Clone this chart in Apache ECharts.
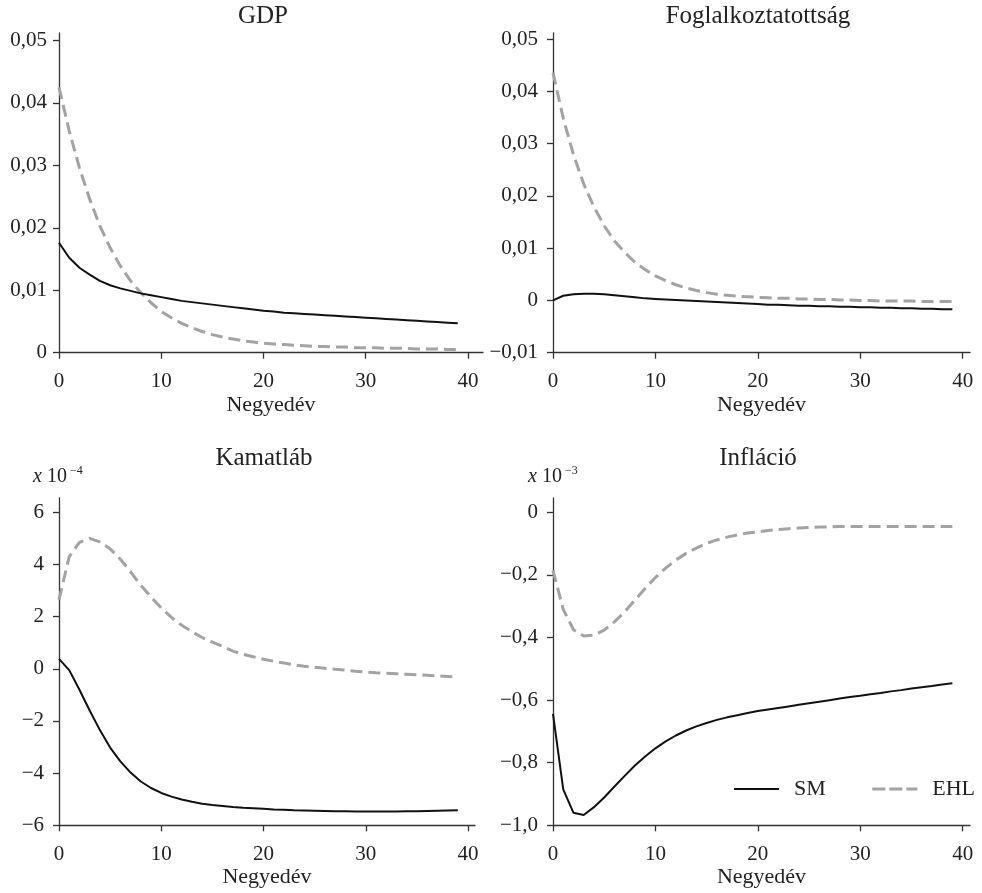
<!DOCTYPE html>
<html>
<head>
<meta charset="UTF-8">
<title>impulzusválaszok</title>
<script src="https://cdn.jsdelivr.net/npm/echarts@6/dist/echarts.min.js"></script>
<style>
*{margin:0;padding:0}
html,body{width:100%;height:100%;background:#fff}
#main{width:982px;height:893px}
</style>
</head>
<body>
<div id="main"></div>
<script type="text/javascript">
var quarters = [0,1,2,3,4,5,6,7,8,9,10,11,12,13,14,15,16,17,18,19,20,21,22,23,24,25,26,27,28,29,30,31,32,33,34,35,36,37,38,39];
var xTicks = [0,10,20,30,40];

// GDP
var gdpSM  = [.0176,.0152,.0136,.0125,.0115,.0108,.0103,.0099,.0095,.0092,.0089,.0086,.0083,.0081,.0079,.0077,.0075,.0073,.0071,.0069,.0067,.0066,.0064,.0063,.0062,.0061,.0060,.0059,.0058,.0057,.0056,.0055,.0054,.0053,.0052,.0051,.0050,.0049,.0048,.0047];
var gdpEHL = [.0425,.0355,.0296,.0246,.0203,.0168,.0139,.0115,.0096,.0080,.0066,.0056,.0047,.0040,.0034,.0029,.0025,.0022,.0019,.0017,.0015,.0014,.0013,.0012,.0011,.0010,.0010,.0009,.0009,.0008,.0008,.0008,.0007,.0007,.0007,.0006,.0006,.0006,.0005,.0005];
var gdpTicks = [0,0.01,0.02,0.03,0.04,0.05];

// Foglalkoztatottság
var empSM  = [0,.0009,.0012,.0013,.0013,.0012,.0010,.0008,.0006,.0004,.0003,.0002,.0001,0,-.0001,-.0002,-.0003,-.0004,-.0005,-.0006,-.0007,-.0008,-.0008,-.0009,-.0010,-.0010,-.0011,-.0011,-.0012,-.0012,-.0013,-.0013,-.0014,-.0014,-.0015,-.0015,-.0016,-.0016,-.0017,-.0017];
var empEHL = [.0436,.0349,.0279,.0223,.0179,.0143,.0114,.0092,.0073,.0059,.0047,.0038,.0030,.0024,.0019,.0015,.0012,.0010,.0008,.0007,.0006,.0005,.0004,.0004,.0003,.0003,.0002,.0002,.0001,.0001,0,0,-.0001,-.0001,-.0001,-.0001,-.0002,-.0002,-.0002,-.0002];
var empTicks = [-0.01,0,0.01,0.02,0.03,0.04,0.05];

// Kamatláb (x 10^-4)
var rateSM  = [0.38,-0.05,-0.8,-1.6,-2.35,-3.02,-3.55,-3.98,-4.32,-4.57,-4.76,-4.9,-5.01,-5.1,-5.17,-5.22,-5.26,-5.3,-5.33,-5.35,-5.37,-5.39,-5.4,-5.42,-5.43,-5.44,-5.45,-5.46,-5.46,-5.47,-5.47,-5.47,-5.47,-5.47,-5.46,-5.46,-5.45,-5.44,-5.43,-5.42];
var rateEHL = [2.65,4.3,4.85,5.0,4.87,4.6,4.2,3.72,3.2,2.75,2.33,1.97,1.67,1.42,1.2,1.02,0.86,0.68,0.56,0.46,0.37,0.29,0.22,0.15,0.10,0.06,0.02,-0.02,-0.05,-0.09,-0.12,-0.15,-0.17,-0.19,-0.21,-0.23,-0.25,-0.27,-0.29,-0.31];
var rateTicks = [-6,-4,-2,0,2,4,6];

// Infláció (x 10^-3)
var infSM  = [-0.644,-0.885,-0.96,-0.967,-0.942,-0.911,-0.876,-0.842,-0.809,-0.78,-0.754,-0.732,-0.713,-0.697,-0.684,-0.673,-0.663,-0.655,-0.648,-0.641,-0.635,-0.63,-0.625,-0.62,-0.615,-0.61,-0.605,-0.6,-0.595,-0.59,-0.586,-0.581,-0.577,-0.572,-0.568,-0.563,-0.559,-0.555,-0.55,-0.546];
var infEHL = [-0.185,-0.31,-0.375,-0.395,-0.392,-0.376,-0.35,-0.318,-0.28,-0.243,-0.208,-0.178,-0.152,-0.131,-0.114,-0.099,-0.088,-0.079,-0.072,-0.066,-0.062,-0.058,-0.055,-0.052,-0.05,-0.048,-0.047,-0.046,-0.045,-0.045,-0.045,-0.045,-0.045,-0.045,-0.045,-0.045,-0.045,-0.045,-0.045,-0.045];
var infTicks = [-1.0,-0.8,-0.6,-0.4,-0.2,0];

var FONT = 'Liberation Serif';
var AX = '#333';
var BLACK = '#111', GREY = '#a3a3a3';

function pairs(ys) {
    return quarters.map(function (q, i) { return [q, ys[i]]; });
}
function minus(s) { return s.replace('-', '\u2212'); }
function fmt2(v) { return v === 0 ? '0' : minus(v.toFixed(2).replace('.', ',')); }
function fmt1(v) { return v === 0 ? '0' : minus(v.toFixed(1).replace('.', ',')); }
function fmt0(v) { return minus(String(v)); }

function xAxis(idx, max, gap, margin) {
    return {
        type: 'value', gridIndex: idx, min: 0, max: max,
        name: 'Negyedév', nameLocation: 'middle', nameGap: gap,
        nameTextStyle: {fontFamily: FONT, fontSize: 22, color: '#222'},
        axisLine: {onZero: false, lineStyle: {color: AX, width: 1.3}},
        axisTick: {length: 6, customValues: xTicks, lineStyle: {color: AX, width: 1.3}},
        axisLabel: {customValues: xTicks, fontFamily: FONT, fontSize: 21, color: '#222', margin: margin},
        splitLine: {show: false}
    };
}
function yAxis(idx, min, max, ticks, f, margin) {
    return {
        type: 'value', gridIndex: idx, min: min, max: max,
        axisLine: {show: true, onZero: false, lineStyle: {color: AX, width: 1.3}},
        axisTick: {show: true, length: 6, customValues: ticks, lineStyle: {color: AX, width: 1.3}},
        axisLabel: {customValues: ticks, formatter: f, fontFamily: FONT, fontSize: 21, color: '#222', margin: margin},
        splitLine: {show: false}
    };
}
function sm(idx, ys) {
    return {name: 'SM', type: 'line', xAxisIndex: idx, yAxisIndex: idx, data: pairs(ys),
        symbol: 'none', lineStyle: {color: BLACK, width: 2}, itemStyle: {color: BLACK}, z: 3};
}
function ehl(idx, ys) {
    return {name: 'EHL', type: 'line', xAxisIndex: idx, yAxisIndex: idx, data: pairs(ys),
        symbol: 'none', lineStyle: {color: GREY, width: 3, type: [12, 6]}, itemStyle: {color: GREY}, z: 2};
}
function title(x, y, t) {
    return {type: 'text', x: x, y: y, style: {text: t, fontFamily: FONT, fontSize: 25, fill: '#222', align: 'center', verticalAlign: 'middle'}};
}
function expo(x, y, p) {
    return [
        {type: 'text', x: x, y: y, style: {text: '{i|x} 10', rich: {i: {fontStyle: 'italic', fontFamily: FONT, fontSize: 20}}, fontFamily: FONT, fontSize: 20, fill: '#222', verticalAlign: 'middle'}},
        {type: 'text', x: x + 37, y: y - 6, style: {text: p, fontFamily: FONT, fontSize: 12, fill: '#222', verticalAlign: 'middle'}}
    ];
}

var myChart = echarts.init(document.getElementById('main'));
var option = {
    animation: false,
    backgroundColor: '#fff',
    grid: [
        {left: 59, top: 33, width: 424, height: 319.7, outerBoundsMode: 'none'},
        {left: 553, top: 33, width: 417, height: 319.7, outerBoundsMode: 'none'},
        {left: 59, top: 498, width: 416, height: 327.3, outerBoundsMode: 'none'},
        {left: 553, top: 498, width: 417, height: 327.3, outerBoundsMode: 'none'}
    ],
    xAxis: [
        xAxis(0, 41.47, 42, 18),
        xAxis(1, 40.72, 42, 18),
        xAxis(2, 40.68, 31, 19),
        xAxis(3, 40.72, 31, 19)
    ],
    yAxis: [
        yAxis(0, 0, 0.0512, gdpTicks, fmt2, 12),
        yAxis(1, -0.01, 0.0512, empTicks, fmt2, 15),
        yAxis(2, -6, 6.55, rateTicks, fmt0, 15),
        yAxis(3, -1.0, 0.046, infTicks, fmt1, 15)
    ],
    legend: {
        data: [
            {name: 'SM', lineStyle: {color: BLACK, width: 2}},
            {name: 'EHL', lineStyle: {color: GREY, width: 3, type: [13, 4]}}
        ],
        left: 733, top: 778, padding: 0,
        itemWidth: 45, itemHeight: 14, itemGap: 45,
        itemStyle: {color: 'rgba(0,0,0,0)', borderWidth: 0, opacity: 0},
        textStyle: {fontFamily: FONT, fontSize: 22, color: '#222', padding: [0, 0, 0, 10]}
    },
    graphic: [
        title(263, 16, 'GDP'),
        title(758, 16, 'Foglalkoztatottság'),
        title(264, 458, 'Kamatláb'),
        title(758, 458, 'Infláció')
    ].concat(expo(33, 477, '\u22124'), expo(528, 477, '\u22123')),
    series: [
        sm(0, gdpSM), ehl(0, gdpEHL),
        sm(1, empSM), ehl(1, empEHL),
        sm(2, rateSM), ehl(2, rateEHL),
        sm(3, infSM), ehl(3, infEHL)
    ]
};
myChart.setOption(option);
</script>
</body>
</html>
